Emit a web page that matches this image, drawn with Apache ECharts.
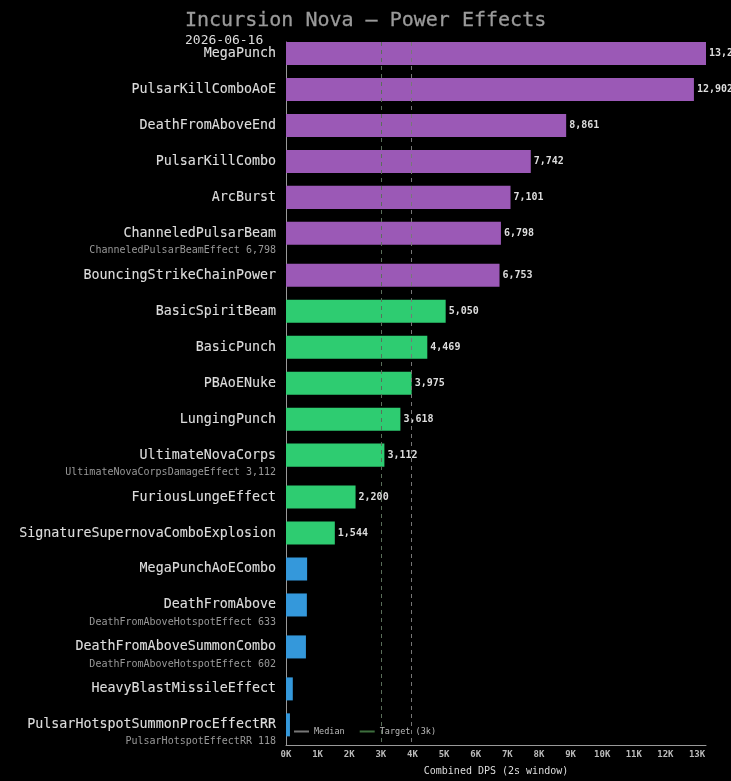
<!DOCTYPE html>
<html>
<head>
<meta charset="utf-8">
<script src="https://cdn.jsdelivr.net/npm/echarts@6/dist/echarts.min.js"></script>
<style>
html,body{margin:0;padding:0;background:#000;}
#chart{width:731px;height:781px;}
</style>
</head>
<body>
<div id="chart"></div>
<script>
const categories = [
  'MegaPunch','PulsarKillComboAoE','DeathFromAboveEnd','PulsarKillCombo','ArcBurst',
  'ChanneledPulsarBeam','BouncingStrikeChainPower','BasicSpiritBeam','BasicPunch','PBAoENuke',
  'LungingPunch','UltimateNovaCorps','FuriousLungeEffect','SignatureSupernovaComboExplosion',
  'MegaPunchAoECombo','DeathFromAbove','DeathFromAboveSummonCombo','HeavyBlastMissileEffect',
  'PulsarHotspotSummonProcEffectRR'
];
const values = [13284, 12902, 8861, 7742, 7101, 6798, 6753, 5050, 4469, 3975, 3618, 3112, 2200, 1544, 668, 660, 630, 215, 125];
const subLabels = ['', '', '', '', '', 'ChanneledPulsarBeamEffect 6,798', '', '', '', '', '',
  'UltimateNovaCorpsDamageEffect 3,112', '', '', '', 'DeathFromAboveHotspotEffect 633',
  'DeathFromAboveHotspotEffect 602', '', 'PulsarHotspotEffectRR 118'];
const targetValue = 3000;
const tickInterval = 1000;

const FONT = '"DejaVu Sans Mono", monospace';
const PURPLE = '#9b59b6', GREEN = '#2ecc71', BLUE = '#3498db';
function tierColor(v) { return v >= 6000 ? PURPLE : (v >= 1000 ? GREEN : BLUE); }

// row positions: one unit per row, plus extra space after rows with a sublabel
const SUB_EXTRA = 1 / 6;
const positions = [];
let acc = 0;
categories.forEach((c, i) => { positions.push(acc); acc += 1 + (subLabels[i] ? SUB_EXTRA : 0); });
const lastPos = positions[positions.length - 1];

const sorted = values.slice().sort((a, b) => a - b);
const median = sorted[Math.floor(sorted.length / 2)];

const data = values.map((v, i) => [v, positions[i], i]);

const chart = echarts.init(document.getElementById('chart'), null, {renderer: 'canvas'});
chart.setOption({
  backgroundColor: '#000',
  animation: false,
  title: {
    text: 'Incursion Nova — Power Effects',
    subtext: '2026-06-16',
    left: 181, top: 11, itemGap: 3, padding: [0, 4],
    textStyle: {color: '#9a9a9a', fontFamily: FONT, fontSize: 20, fontWeight: 'normal',
      textBorderColor: '#9a9a9a', textBorderWidth: 0.3},
    subtextStyle: {color: '#dddddd', fontFamily: FONT, fontSize: 13}
  },
  legend: {
    left: 294, top: 727, padding: 0,
    itemWidth: 15, itemHeight: 2, itemGap: 15,
    textStyle: {color: '#bbbbbb', fontFamily: FONT, fontSize: 8.5},
    data: [{name: 'Median', icon: 'rect'}, {name: 'Target (3k)', icon: 'rect'}]
  },
  grid: {left: 286, right: 25, top: 42, bottom: 36},
  xAxis: {
    type: 'value', min: 0, max: Math.max(...values), interval: tickInterval,
    axisLine: {show: true, onZero: false, lineStyle: {color: '#999', width: 1}},
    axisTick: {show: false},
    splitLine: {show: false},
    axisLabel: {
      color: '#bbbbbb', fontFamily: FONT, fontSize: 9, fontWeight: 'bold', margin: 5,
      showMaxLabel: false,
      formatter: v => (v % tickInterval === 0 ? (v / 1000) + 'K' : '')
    },
    name: 'Combined DPS (2s window)', nameLocation: 'middle', nameGap: 21,
    nameTextStyle: {color: '#dddddd', fontFamily: FONT, fontSize: 10}
  },
  yAxis: {
    type: 'value', inverse: true,
    min: -0.32, max: lastPos + 0.56,
    axisLine: {show: true, onZero: false, lineStyle: {color: '#999', width: 1}},
    axisTick: {show: false}, axisLabel: {show: false}, splitLine: {show: false}
  },
  series: [
    {
      name: 'Median', type: 'line', data: [], z: 1,
      color: '#777777', itemStyle: {color: '#777777'}, lineStyle: {color: '#777777'},
      markLine: {
        silent: true, symbol: ['none', 'none'], label: {show: false},
        lineStyle: {color: '#777777', type: [4, 4], width: 1},
        data: [{xAxis: median}]
      }
    },
    {
      name: 'Target (3k)', type: 'line', data: [], z: 1,
      color: '#3d6e3d', itemStyle: {color: '#3d6e3d'}, lineStyle: {color: '#3d6e3d'},
      markLine: {
        silent: true, symbol: ['none', 'none'], label: {show: false},
        lineStyle: {color: '#5a6e5a', type: [4, 4], width: 1},
        data: [{xAxis: targetValue}]
      }
    },
    {
      name: 'DPS', type: 'custom', z: 3, clip: false,
      encode: {x: 0, y: 1},
      data: data,
      renderItem: function (params, api) {
        const v = api.value(0), pos = api.value(1), idx = api.value(2);
        const s = api.coord([0, pos]);
        const e = api.coord([v, pos]);
        const h = api.size([0, 1])[1] * 0.64;
        const children = [
          {type: 'rect', shape: {x: s[0], y: s[1] - h / 2, width: e[0] - s[0], height: h},
           style: {fill: tierColor(v)}},
          {type: 'text', style: {x: s[0] - 10, y: s[1], text: categories[idx], align: 'right',
            verticalAlign: 'middle', fill: '#dddddd', font: '13.33px ' + FONT,
            stroke: '#dddddd', lineWidth: 0.12}}
        ];
        if (subLabels[idx]) {
          children.push({type: 'text', style: {x: s[0] - 10, y: s[1] + 17, text: subLabels[idx],
            align: 'right', verticalAlign: 'middle', fill: '#999999', font: '10px ' + FONT}});
        }
        if (v >= 1000) {
          children.push({type: 'text', style: {x: e[0] + 3, y: s[1], text: v.toLocaleString('en-US'),
            align: 'left', verticalAlign: 'middle', fill: '#dddddd', font: 'bold 10px ' + FONT}});
        }
        return {type: 'group', children: children};
      }
    }
  ]
});
</script>
</body>
</html>
